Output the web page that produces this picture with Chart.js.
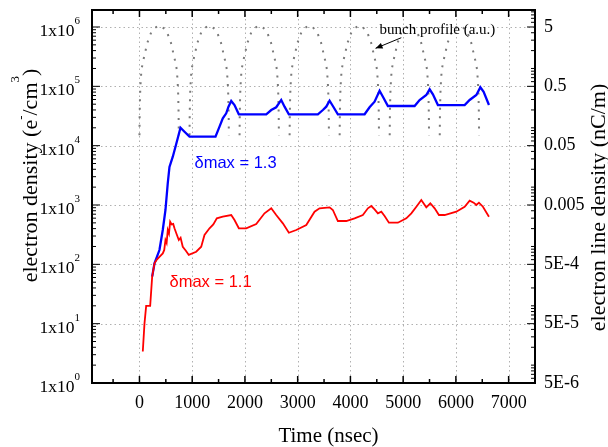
<!DOCTYPE html>
<html>
<head>
<meta charset="utf-8">
<script src="https://cdn.jsdelivr.net/npm/chart.js@4.4.0/dist/chart.umd.min.js"></script>
<style>
  html, body { margin: 0; padding: 0; background: #fff; }
</style>
</head>
<body>
<canvas id="densityChart" width="608" height="447"></canvas>
<script>
// electron cloud build-up vs time for two SEY values, with the bunch train profile behind

const xTicks = [0, 1000, 2000, 3000, 4000, 5000, 6000, 7000];
const xMinorTicks = [-500, 500, 1500, 2500, 3500, 4500, 5500, 6500];
const leftTicks = [1, 10, 100, 1e3, 1e4, 1e5, 1e6];
const leftExponents = ['0', '1', '2', '3', '4', '5', '6'];
const rightTicks = [5e-6, 5e-5, 5e-4, 0.005, 0.05, 0.5, 5];
const rightLabels = ['5E-6', '5E-5', '5E-4', '0.005', '0.05', '0.5', '5'];

// delta max = 1.3 (blue)
const timeBlue = [241, 285, 379, 442, 493, 537, 569, 632, 683, 727,
  778, 854, 949, 1442, 1518, 1580, 1645, 1688, 1740, 1802,
  1884, 2404, 2499, 2593, 2688, 2751, 2833, 3383, 3478, 3542,
  3605, 3667, 3762, 4269, 4363, 4458, 4553, 4616, 4711, 5217,
  5312, 5439, 5502, 5564, 5659, 6166, 6261, 6388, 6464, 6526, 6627];
const densBlue = [62, 104, 174, 379, 824, 2350, 4370, 6520, 9600, 13500,
  20100, 17200, 14200, 14200, 20900, 28900, 35100, 45400, 56600, 48400,
  33800, 33800, 39900, 44400, 58900, 45400, 33800, 33800, 39900, 45400,
  57300, 46600, 33800, 33800, 44400, 55100, 84400, 66900, 46600, 46600,
  58900, 71400, 89100, 73400, 48400, 48400, 58900, 71400, 96400, 81100, 48400];

// delta max = 1.1 (red)
const timeRed = [63, 95, 127, 203, 241, 285, 330, 379, 442, 470,
  493, 515, 537, 560, 582, 610, 640, 664, 700, 746,
  780, 821, 880, 935, 1076, 1171, 1233, 1328, 1400, 1467,
  1580, 1740, 1802, 1884, 2024, 2214, 2371, 2499, 2593, 2719,
  2833, 2973, 3163, 3320, 3415, 3605, 3667, 3762, 3921, 4079,
  4236, 4331, 4396, 4458, 4521, 4586, 4648, 4730, 4900, 5060,
  5155, 5261, 5344, 5439, 5515, 5597, 5678, 5786, 6008, 6166,
  6261, 6337, 6388, 6437, 6513, 6627];
const densRed = [3.4, 10, 20, 20, 62, 104, 120, 134, 153, 175,
  257, 230, 379, 330, 523, 470, 480, 405, 330, 257,
  280, 198, 170, 144, 163, 198, 312, 405, 470, 597,
  635, 678, 558, 405, 405, 479, 725, 879, 678, 491,
  341, 379, 460, 771, 879, 914, 824, 537, 537, 597,
  678, 879, 961, 845, 725, 771, 652, 503, 503, 597,
  725, 961, 1214, 914, 1069, 879, 678, 678, 771, 935,
  1180, 1094, 1000, 1094, 935, 635];

// bunch profile (a.u.): start of each bunch, and one bunch
const bunchStarts = [0, 949, 1898, 2847, 3796, 4745, 5694];
const bunchShapeT = [0, 4, 11, 19, 37, 75, 149, 224, 298, 373, 448, 522, 597, 671, 709, 727, 735, 742, 746];
const bunchShapeN = [1.5e4, 3.5e4, 7e4, 1.05e5, 1.9e5, 2.8e5, 5.4e5, 8.2e5, 9.7e5, 1.06e6,
  9.7e5, 8.2e5, 5.4e5, 2.8e5, 1.9e5, 1.05e5, 7e4, 3.5e4, 1.5e4];

const Y_MIN = 1, Y_MAX = 1.934e6;
const LINE_PER_DENS = 5e-6;   // right axis = left axis * this

const serif = '"Liberation Serif", "Times New Roman", serif';
const sans = '"Liberation Sans", Arial, sans-serif';

const bunchPoints = [];
bunchStarts.forEach(t0 => {
  bunchShapeT.forEach((dt, i) => bunchPoints.push({ x: t0 + dt, y: bunchShapeN[i] }));
  bunchPoints.push({ x: t0 + 800, y: null });
});
const bluePoints = timeBlue.map((t, i) => ({ x: t, y: densBlue[i] }));
const redPoints = timeRed.map((t, i) => ({ x: t, y: densRed[i] }));

function minorLogValues(lo, hi, skip) {
  const out = [];
  for (let k = Math.floor(Math.log10(lo)); k <= Math.ceil(Math.log10(hi)); k++) {
    for (let n = 1; n <= 9; n++) {
      const v = n * Math.pow(10, k);
      if (v >= lo * 0.999 && v <= hi && !skip.some(s => Math.abs(s - v) / v < 1e-6)) out.push(v);
    }
  }
  return out;
}

function textRun(ctx, parts, x, y) {
  // parts: [text, fontSize, raise]
  let cx = x;
  parts.forEach(([txt, size, raise]) => {
    ctx.font = size + 'px ' + serif;
    ctx.fillText(txt, cx, y - raise);
    cx += ctx.measureText(txt).width;
  });
}
function runWidth(ctx, parts) {
  let w = 0;
  parts.forEach(([txt, size]) => { ctx.font = size + 'px ' + serif; w += ctx.measureText(txt).width; });
  return w;
}

// no extra room for labels hanging past the plot edges
function noPad(s) {
  s.paddingTop = 0; s.paddingBottom = 0; s.paddingLeft = 0; s.paddingRight = 0;
}

const framePlugin = {
  id: 'framePlugin',
  beforeDatasetsDraw(chart) {
    const { ctx, chartArea: a, scales: { x, y } } = chart;
    ctx.save();
    ctx.strokeStyle = '#b0b0b0';
    ctx.lineWidth = 1;
    ctx.setLineDash([1.5, 3]);
    xTicks.forEach(v => {
      const px = Math.round(x.getPixelForValue(v)) + 0.5;
      ctx.beginPath(); ctx.moveTo(px, a.top); ctx.lineTo(px, a.bottom); ctx.stroke();
    });
    leftTicks.forEach(v => {
      const py = Math.round(y.getPixelForValue(v)) + 0.5;
      ctx.beginPath(); ctx.moveTo(a.left, py); ctx.lineTo(a.right, py); ctx.stroke();
    });
    ctx.restore();
  },
  afterDatasetsDraw(chart) {
    const { ctx, chartArea: a, scales: { x, y, y2 } } = chart;
    ctx.save();
    ctx.setLineDash([]);
    ctx.strokeStyle = '#000';
    ctx.fillStyle = '#000';

    // frame
    ctx.lineWidth = 2;
    ctx.strokeRect(a.left, a.top, a.right - a.left, a.bottom - a.top);

    // inward tick marks
    ctx.lineWidth = 1.5;
    const tick = (x0, y0, x1, y1) => { ctx.beginPath(); ctx.moveTo(x0, y0); ctx.lineTo(x1, y1); ctx.stroke(); };
    xTicks.forEach(v => {
      const px = x.getPixelForValue(v);
      tick(px, a.bottom, px, a.bottom - 7);
      tick(px, a.top, px, a.top + 7);
    });
    xMinorTicks.forEach(v => {
      const px = x.getPixelForValue(v);
      tick(px, a.bottom, px, a.bottom - 4);
      tick(px, a.top, px, a.top + 4);
    });
    ctx.lineWidth = 1;
    leftTicks.forEach(v => { const py = y.getPixelForValue(v); tick(a.left, py, a.left + 8, py); });
    minorLogValues(Y_MIN, Y_MAX, leftTicks).forEach(v => {
      const py = y.getPixelForValue(v); tick(a.left, py, a.left + 4, py);
    });
    rightTicks.forEach(v => { const py = y2.getPixelForValue(v); tick(a.right, py, a.right - 8, py); });
    minorLogValues(Y_MIN * LINE_PER_DENS, Y_MAX * LINE_PER_DENS, rightTicks).forEach(v => {
      const py = y2.getPixelForValue(v); tick(a.right, py, a.right - 4, py);
    });

    // left tick labels 1x10^n
    ctx.textBaseline = 'alphabetic';
    leftTicks.forEach((v, i) => {
      const py = y.getPixelForValue(v);
      ctx.font = '11px ' + serif;
      const ew = ctx.measureText(leftExponents[i]).width;
      const ex = a.left - 12 - ew;
      ctx.textAlign = 'left';
      ctx.fillText(leftExponents[i], ex, py - 3);
      ctx.font = '17.5px ' + serif;
      ctx.textAlign = 'right';
      ctx.fillText('1x10', ex, py + 9);
    });

    // axis titles
    ctx.textAlign = 'left';
    const leftTitle = [['electron density (e', 22, 0], ['-', 13, 12], ['/cm', 22, 0], ['3', 13, 18], [')', 22, 0]];
    ctx.save();
    ctx.translate(36.5, (a.top + a.bottom) / 2 - 21);
    ctx.rotate(-Math.PI / 2);
    textRun(ctx, leftTitle, -runWidth(ctx, leftTitle) / 2, 0);
    ctx.restore();

    ctx.save();
    ctx.translate(chart.width - 3, (a.top + a.bottom) / 2 + 11);
    ctx.rotate(-Math.PI / 2);
    ctx.font = '22px ' + serif;
    ctx.textAlign = 'center';
    ctx.fillText('electron line density (nC/m)', 0, 0);
    ctx.restore();

    ctx.font = '21px ' + serif;
    ctx.textAlign = 'center';
    ctx.fillText('Time (nsec)', (a.left + a.right) / 2 + 15, chart.height - 5);

    // curve labels
    ctx.font = '16.5px ' + sans;
    ctx.textAlign = 'left';
    ctx.fillStyle = '#0000ff';
    ctx.fillText('\u03b4max = 1.3', x.getPixelForValue(1043), y.getPixelForValue(4200));
    ctx.fillStyle = '#ff0000';
    ctx.fillText('\u03b4max = 1.1', x.getPixelForValue(569), y.getPixelForValue(41.5));

    // bunch profile note + arrow
    ctx.fillStyle = '#000';
    ctx.font = '15px ' + serif;
    ctx.fillText('bunch profile (a.u.)', x.getPixelForValue(4553), y.getPixelForValue(7.5e5));
    const x0 = x.getPixelForValue(4965), y0 = y.getPixelForValue(6.6e5);
    const x1 = x.getPixelForValue(4477), y1 = y.getPixelForValue(4.37e5);
    const ang = Math.atan2(y1 - y0, x1 - x0);
    ctx.lineWidth = 1;
    ctx.beginPath(); ctx.moveTo(x0, y0); ctx.lineTo(x1, y1); ctx.stroke();
    ctx.beginPath();
    ctx.moveTo(x1, y1);
    ctx.lineTo(x1 - 7 * Math.cos(ang) + 3 * Math.sin(ang), y1 - 7 * Math.sin(ang) - 3 * Math.cos(ang));
    ctx.lineTo(x1 - 7 * Math.cos(ang) - 3 * Math.sin(ang), y1 - 7 * Math.sin(ang) + 3 * Math.cos(ang));
    ctx.closePath();
    ctx.fill();
    ctx.restore();
  }
};

const ctx = document.getElementById('densityChart').getContext('2d');
const chart = new Chart(ctx, {
  type: 'line',
  data: {
    datasets: [
      {
        label: 'bunch profile',
        data: bunchPoints,
        borderColor: '#7a7a7a',
        borderWidth: 2,
        borderDash: [2, 6.5],
        pointRadius: 0,
        spanGaps: false,
        tension: 0,
        order: 3
      },
      {
        label: 'dmax = 1.3',
        data: bluePoints,
        borderColor: '#0000ff',
        borderWidth: 2.3,
        pointRadius: 0,
        tension: 0,
        order: 2
      },
      {
        label: 'dmax = 1.1',
        data: redPoints,
        borderColor: '#ff0000',
        borderWidth: 1.8,
        pointRadius: 0,
        tension: 0,
        order: 1
      }
    ]
  },
  options: {
    responsive: false,
    animation: false,
    layout: { padding: { top: 10, left: 0, right: 0, bottom: 0 } },
    plugins: { legend: { display: false }, tooltip: { enabled: false } },
    scales: {
      x: {
        type: 'linear',
        min: -900,
        max: 7500,
        grid: { display: false, drawTicks: false },
        border: { display: false },
        afterBuildTicks: s => { s.ticks = xTicks.map(v => ({ value: v })); },
        afterFit: s => { s.height = 64; noPad(s); },
        ticks: {
          color: '#000',
          font: { family: serif, size: 18 },
          padding: 9,
          maxRotation: 0,
          autoSkip: false,
          callback: v => String(v)
        }
      },
      y: {
        type: 'logarithmic',
        position: 'left',
        min: Y_MIN,
        max: Y_MAX,
        grid: { display: false, drawTicks: false },
        border: { display: false },
        afterFit: s => { s.width = 92; noPad(s); },
        ticks: { display: false }
      },
      y2: {
        type: 'logarithmic',
        position: 'right',
        min: Y_MIN * LINE_PER_DENS,
        max: Y_MAX * LINE_PER_DENS,
        grid: { display: false, drawTicks: false },
        border: { display: false },
        afterBuildTicks: s => { s.ticks = rightTicks.map(v => ({ value: v })); },
        afterFit: s => { s.width = 73; noPad(s); },
        ticks: {
          color: '#000',
          font: { family: serif, size: 18 },
          padding: 9,
          autoSkip: false,
          callback: (v, i) => rightLabels[i]
        }
      }
    }
  },
  plugins: [framePlugin]
});
</script>
</body>
</html>
